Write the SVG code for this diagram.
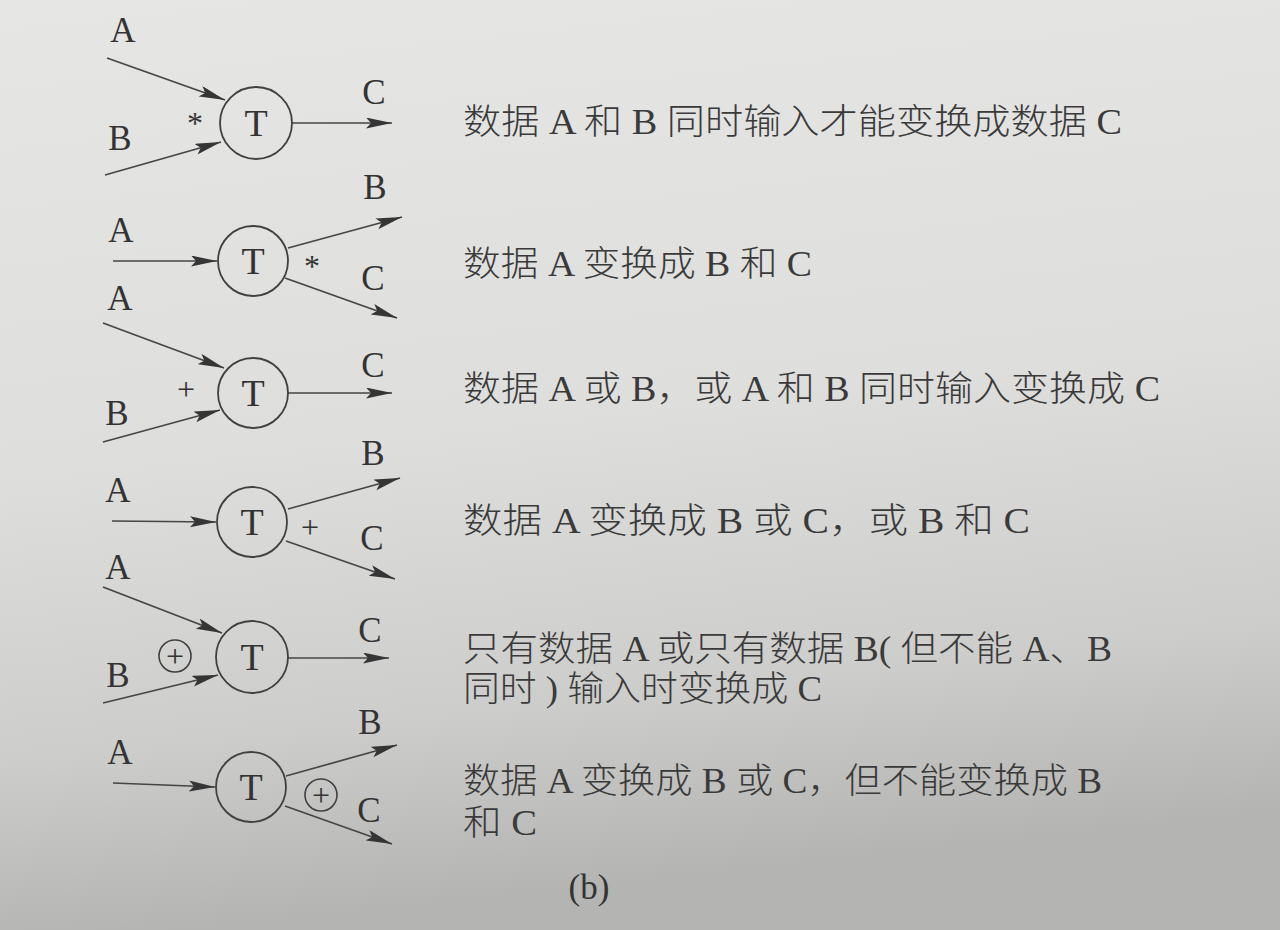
<svg xmlns="http://www.w3.org/2000/svg" width="1280" height="930" viewBox="0 0 1280 930">
<defs>
<linearGradient id="paper" x1="0" y1="0" x2="0.15" y2="1">
<stop offset="0" stop-color="#e6e6e4"/>
<stop offset="0.5" stop-color="#dededc"/>
<stop offset="0.8" stop-color="#cdcdcb"/>
<stop offset="1" stop-color="#b4b4b2"/>
</linearGradient>
<marker id="arr" markerUnits="userSpaceOnUse" markerWidth="30" markerHeight="12" refX="26" refY="5.5" orient="auto">
<path d="M0,0 L26,5.5 L0,11 L5,5.5 Z" fill="#353535"/>
</marker>
<style>
.edge{stroke:#454545;stroke-width:1.7;fill:none;marker-end:url(#arr)}
.node circle{fill:none;stroke:#404040;stroke-width:1.8}
.node text{font-family:"Liberation Serif",serif;font-size:38px;fill:#333;text-anchor:middle}
.lbl{font-family:"Liberation Serif",serif;font-size:35px;fill:#333;text-anchor:middle}
.op{font-family:"Liberation Serif",serif;font-size:32px;fill:#333;text-anchor:middle}
.xor circle{fill:none;stroke:#404040;stroke-width:1.6}
.desc{font-family:"Liberation Serif","Noto Sans CJK SC",serif;font-size:35px;font-weight:300;fill:#3a3a3a}
</style>
</defs>
<rect width="1280" height="930" fill="url(#paper)"/>

<g id="connectors">
<line class="edge" x1="107" y1="58" x2="225" y2="100"/>
<line class="edge" x1="105" y1="175" x2="221" y2="142"/>
<line class="edge" x1="292" y1="123" x2="392" y2="123"/>
<line class="edge" x1="113" y1="261" x2="217" y2="261"/>
<line class="edge" x1="288" y1="248" x2="402" y2="217"/>
<line class="edge" x1="285" y1="278" x2="397" y2="318"/>
<line class="edge" x1="103" y1="323" x2="224" y2="368"/>
<line class="edge" x1="103" y1="442" x2="220" y2="410"/>
<line class="edge" x1="288" y1="393" x2="392" y2="393"/>
<line class="edge" x1="112" y1="521" x2="216" y2="522"/>
<line class="edge" x1="288" y1="509" x2="400" y2="478"/>
<line class="edge" x1="286" y1="541" x2="395" y2="579"/>
<line class="edge" x1="103" y1="587" x2="222" y2="633"/>
<line class="edge" x1="103" y1="703" x2="218" y2="675"/>
<line class="edge" x1="288" y1="658" x2="389" y2="658"/>
<line class="edge" x1="113" y1="783" x2="215" y2="787"/>
<line class="edge" x1="286" y1="776" x2="397" y2="745"/>
<line class="edge" x1="285" y1="806" x2="392" y2="844"/>
</g>

<g id="node1" class="node"><circle cx="256" cy="123" r="36"/><text x="256" y="136">T</text></g>
<g id="node2" class="node"><circle cx="253" cy="261" r="35"/><text x="253" y="274">T</text></g>
<g id="node3" class="node"><circle cx="253" cy="393" r="35"/><text x="253" y="406">T</text></g>
<g id="node4" class="node"><circle cx="252" cy="522" r="35"/><text x="252" y="535">T</text></g>
<g id="node5" class="node"><circle cx="252" cy="657" r="36"/><text x="252" y="670">T</text></g>
<g id="node6" class="node"><circle cx="251" cy="787" r="35"/><text x="251" y="800">T</text></g>

<g id="labels">
<text class="lbl" x="123" y="42">A</text>
<text class="lbl" x="120" y="150">B</text>
<text class="lbl" x="374" y="104">C</text>
<text class="op" x="195" y="134">*</text>

<text class="lbl" x="121" y="242">A</text>
<text class="lbl" x="375" y="199">B</text>
<text class="lbl" x="373" y="290">C</text>
<text class="op" x="312" y="277">*</text>

<text class="lbl" x="120" y="310">A</text>
<text class="lbl" x="117" y="425">B</text>
<text class="lbl" x="373" y="377">C</text>
<text class="op" x="186" y="400">+</text>

<text class="lbl" x="118" y="502">A</text>
<text class="lbl" x="373" y="465">B</text>
<text class="lbl" x="372" y="550">C</text>
<text class="op" x="310" y="538">+</text>

<text class="lbl" x="118" y="579">A</text>
<text class="lbl" x="118" y="687">B</text>
<text class="lbl" x="370" y="642">C</text>
<g class="xor"><circle cx="175" cy="656" r="16"/><text class="op" x="175" y="667">+</text></g>

<text class="lbl" x="120" y="764">A</text>
<text class="lbl" x="370" y="734">B</text>
<text class="lbl" x="369" y="822">C</text>
<g class="xor"><circle cx="321" cy="795" r="16"/><text class="op" x="321" y="806">+</text></g>
</g>

<g id="descriptions">
<text class="desc" x="463" y="134" textLength="659" lengthAdjust="spacingAndGlyphs">数据 A 和 B 同时输入才能变换成数据 C</text>
<text class="desc" x="463" y="276" textLength="349" lengthAdjust="spacingAndGlyphs">数据 A 变换成 B 和 C</text>
<text class="desc" x="463" y="401" textLength="697" lengthAdjust="spacingAndGlyphs">数据 A 或 B，或 A 和 B 同时输入变换成 C</text>
<text class="desc" x="463" y="533" textLength="567" lengthAdjust="spacingAndGlyphs">数据 A 变换成 B 或 C，或 B 和 C</text>
<text class="desc" x="463" y="661" textLength="649" lengthAdjust="spacingAndGlyphs">只有数据 A 或只有数据 B( 但不能 A、B</text>
<text class="desc" x="463" y="701" textLength="359" lengthAdjust="spacingAndGlyphs">同时 ) 输入时变换成 C</text>
<text class="desc" x="463" y="793" textLength="639" lengthAdjust="spacingAndGlyphs">数据 A 变换成 B 或 C，但不能变换成 B</text>
<text class="desc" x="463" y="835" textLength="74" lengthAdjust="spacingAndGlyphs">和 C</text>
<text class="lbl" x="589" y="899">(b)</text>
</g>
</svg>
